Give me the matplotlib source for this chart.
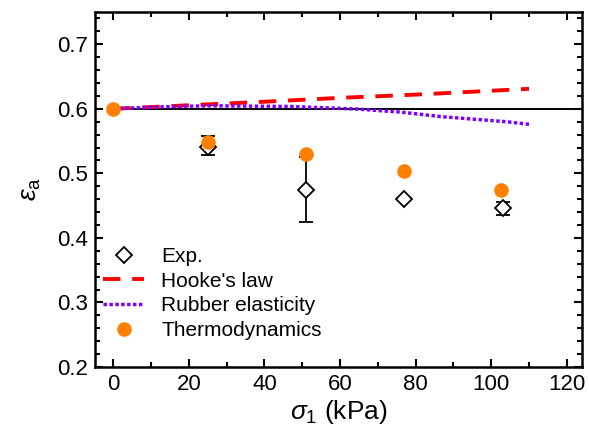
import matplotlib
matplotlib.use("Agg")
import matplotlib.pyplot as plt
from matplotlib.ticker import MultipleLocator
from matplotlib.lines import Line2D

plt.rcParams['font.family'] = ['Liberation Sans', 'DejaVu Sans']
plt.rcParams['mathtext.fontset'] = 'custom'
plt.rcParams['mathtext.rm'] = 'Liberation Sans'
plt.rcParams['mathtext.it'] = 'Liberation Sans:italic'

# Experimental data
exp_x = [25, 51, 77, 103]
exp_y = [0.541, 0.474, 0.460, 0.446]
exp_err_lo = [0.013, 0.049, 0.0, 0.010]
exp_err_hi = [0.017, 0.051, 0.0, 0.010]

# Hooke's law
hooke_x = [0, 20, 40, 60, 80, 100, 110]
hooke_y = [0.600, 0.6055, 0.611, 0.617, 0.622, 0.628, 0.631]

# Rubber elasticity
rubber_x = [0, 10, 25, 47, 64.5, 76, 86.5, 104, 110]
rubber_y = [0.600, 0.6026, 0.6047, 0.6036, 0.5996, 0.595, 0.588, 0.580, 0.576]

# Thermodynamics
thermo_x = [0, 25, 51, 77, 102.5]
thermo_y = [0.600, 0.548, 0.530, 0.504, 0.474]

# Reference line
ref_x = [0, 124]
ref_y = [0.6, 0.6]

fig = plt.figure(figsize=(5.89, 4.37), dpi=100)
ax = fig.add_axes([95/589, 1 - 367/437, 487/589, 355/437])

ax.plot(ref_x, ref_y, color='black', lw=1.4, zorder=2)
ax.errorbar(exp_x, exp_y, yerr=[exp_err_lo, exp_err_hi], fmt='D', mfc='white', mec='black',
            mew=1.3, ms=8, ecolor='black', elinewidth=1.3, capsize=5, capthick=1.3, zorder=3)
ax.plot(hooke_x, hooke_y, color='#FF0000', lw=2.8, dashes=(4.5, 3.0), zorder=2)
ax.plot(rubber_x, rubber_y, color='#7F00FF', lw=2.5, dashes=(1.0, 0.7), zorder=2)
ax.plot(thermo_x, thermo_y, 'o', color='#FF8000', ms=10.5, mec='none', zorder=4)

ax.set_xlim(-4.8, 124)
ax.set_ylim(0.2, 0.75)
ax.xaxis.set_major_locator(MultipleLocator(20))
ax.xaxis.set_minor_locator(MultipleLocator(10))
ax.yaxis.set_minor_locator(MultipleLocator(0.02))
ax.set_yticks([0.2, 0.3, 0.4, 0.5, 0.6, 0.7])
ax.set_yticklabels(['0.2', '0.3', '0.4', '0.5', '0.6', '0.7'])
ax.tick_params(which='both', direction='in', top=True, right=True, labelsize=16, width=1.5, pad=5)
ax.tick_params(which='major', length=6)
ax.tick_params(which='minor', length=3.5)
for s in ax.spines.values():
    s.set_linewidth(1.8)

ax.set_xlabel(r'$\sigma_{\rm 1}$ (kPa)', fontsize=19, labelpad=2)
ax.set_ylabel(r'$\varepsilon_{\rm a}$', fontsize=19, labelpad=10)

handles = [
    Line2D([], [], ls='none', marker='D', mfc='white', mec='black', mew=1.3, ms=8),
    Line2D([], [], color='#FF0000', lw=2.8, dashes=(4.5, 3.0)),
    Line2D([], [], color='#7F00FF', lw=2.5, dashes=(1.0, 0.7)),
    Line2D([], [], ls='none', marker='o', color='#FF8000', ms=10.5, mec='none'),
]
labels = ['Exp.', "Hooke's law", 'Rubber elasticity', 'Thermodynamics']
ax.legend(handles, labels, loc='lower left', bbox_to_anchor=(-0.014, 0.035), frameon=False,
          fontsize=15, handlelength=2.0, labelspacing=0.27, handletextpad=0.8, borderaxespad=0.3)

fig.savefig('out.png', dpi=100)
